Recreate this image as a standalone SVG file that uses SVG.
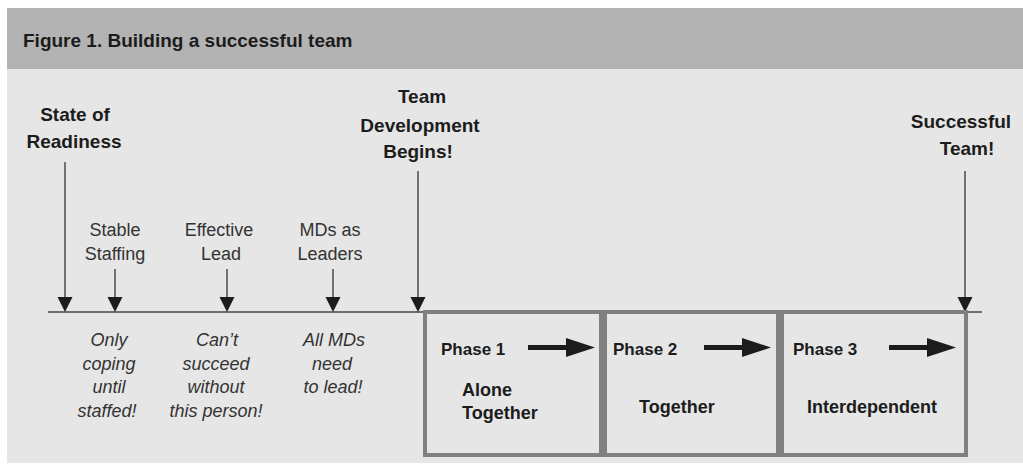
<svg xmlns="http://www.w3.org/2000/svg" width="1023" height="473" viewBox="0 0 1023 473">
<style>
.b{font-family:"Liberation Sans",Arial,sans-serif;font-weight:bold;fill:#1c1c1c}
.r{font-family:"Liberation Sans",Arial,sans-serif;font-size:18px;fill:#333}
.i{font-family:"Liberation Sans",Arial,sans-serif;font-size:18px;font-style:italic;fill:#333;text-anchor:middle}
.m{text-anchor:middle}
.thin{stroke:#4a4a4a;stroke-width:1.5;fill:none}
.thick{stroke:#1c1c1c;stroke-width:5;fill:none}
.box{fill:none;stroke:#808080;stroke-width:4}
</style>
<defs>
<marker id="ah" markerUnits="userSpaceOnUse" markerWidth="15" markerHeight="16" refX="0" refY="7.5" orient="auto" viewBox="0 0 15 15"><path d="M0,0 L15,7.5 L0,15 z" fill="#1c1c1c"/></marker>
<marker id="ahb" markerUnits="userSpaceOnUse" markerWidth="29" markerHeight="19" refX="0" refY="9.5" orient="auto" viewBox="0 0 29 19"><path d="M0,0 L29,9.5 L0,19 z" fill="#1c1c1c"/></marker>
</defs>
<rect x="0" y="0" width="1023" height="473" fill="#fff"/>
<rect x="7" y="8" width="1016" height="61" fill="#b3b3b3"/>
<rect x="7" y="69" width="1016" height="394" fill="#e6e6e6"/>
<text class="b" x="23" y="47" font-size="19">Figure 1. Building a successful team</text>

<g id="connectors">
<line x1="48" y1="312" x2="982" y2="312" stroke="#6e6e6e" stroke-width="2"/>
<line class="thin" x1="65" y1="162" x2="65" y2="297" marker-end="url(#ah)"/>
<line class="thin" x1="115" y1="269" x2="115" y2="297" marker-end="url(#ah)"/>
<line class="thin" x1="227" y1="269" x2="227" y2="297" marker-end="url(#ah)"/>
<line class="thin" x1="333" y1="269" x2="333" y2="297" marker-end="url(#ah)"/>
<line class="thin" x1="418" y1="171" x2="418" y2="297" marker-end="url(#ah)"/>
<line class="thin" x1="965" y1="171" x2="965" y2="297" marker-end="url(#ah)"/>
</g>

<g id="state-of-readiness">
<text class="b m" font-size="19" x="75" y="121">State of</text>
<text class="b m" font-size="19" x="74" y="148">Readiness</text>
</g>
<g id="stable-staffing">
<text class="r m" x="115" y="236">Stable</text>
<text class="r m" x="115" y="260">Staffing</text>
<text class="i" x="109" y="346">Only</text>
<text class="i" x="109" y="370">coping</text>
<text class="i" x="109" y="393">until</text>
<text class="i" x="107" y="417">staffed!</text>
</g>
<g id="effective-lead">
<text class="r m" x="219" y="236">Effective</text>
<text class="r m" x="221" y="260">Lead</text>
<text class="i" x="217" y="346">Can’t</text>
<text class="i" x="216" y="370">succeed</text>
<text class="i" x="216" y="393">without</text>
<text class="i" x="216" y="417">this person!</text>
</g>
<g id="mds-as-leaders">
<text class="r m" x="330" y="236">MDs as</text>
<text class="r m" x="330" y="260">Leaders</text>
<text class="i" x="334" y="346">All MDs</text>
<text class="i" x="332" y="370">need</text>
<text class="i" x="333" y="393">to lead!</text>
</g>
<g id="team-development">
<text class="b m" font-size="19" x="422" y="103">Team</text>
<text class="b m" font-size="19" x="420" y="132">Development</text>
<text class="b m" font-size="19" x="418" y="158">Begins!</text>
</g>
<g id="successful-team">
<text class="b m" font-size="19" x="961" y="128">Successful</text>
<text class="b m" font-size="19" x="967" y="155">Team!</text>
</g>

<g id="phase-1">
<rect class="box" x="425" y="312" width="176" height="143"/>
<text class="b" font-size="17" x="441" y="355">Phase 1</text>
<line class="thick" x1="528" y1="347.5" x2="566" y2="347.5" marker-end="url(#ahb)"/>
<text class="b" font-size="18" x="462" y="396">Alone</text>
<text class="b" font-size="18" x="462" y="419">Together</text>
</g>
<g id="phase-2">
<rect class="box" x="605" y="312" width="173" height="143"/>
<text class="b" font-size="17" x="613" y="355">Phase 2</text>
<line class="thick" x1="704" y1="347.5" x2="742" y2="347.5" marker-end="url(#ahb)"/>
<text class="b" font-size="18" x="639" y="413">Together</text>
</g>
<g id="phase-3">
<rect class="box" x="782" y="312" width="184" height="143"/>
<text class="b" font-size="17" x="793" y="355">Phase 3</text>
<line class="thick" x1="889" y1="347.5" x2="927" y2="347.5" marker-end="url(#ahb)"/>
<text class="b" font-size="18" x="807" y="413">Interdependent</text>
</g>
</svg>
